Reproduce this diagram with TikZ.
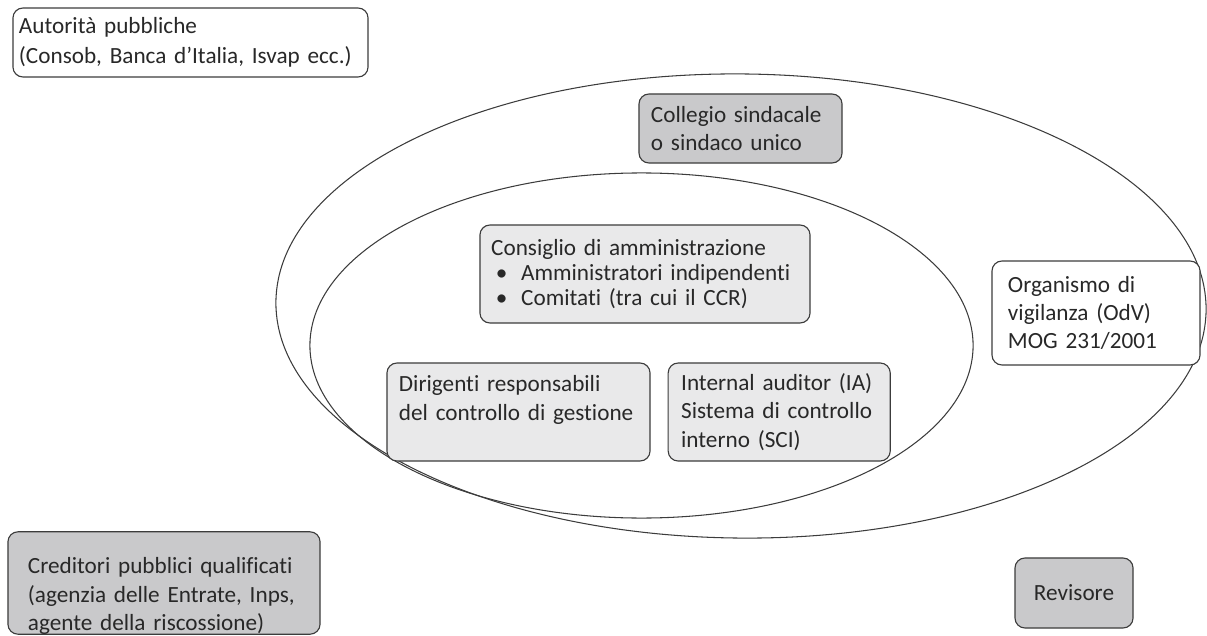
\documentclass[tikz,border=0pt]{standalone}
\usepackage{fontspec}
\setmainfont{Carlito}[Ligatures=NoCommon]
\usepackage{tikz}
\usetikzlibrary{positioning}

\definecolor{fillLight}{RGB}{233,233,234}
\definecolor{fillDark}{RGB}{201,201,203}
\definecolor{lineGray}{RGB}{60,60,60}
\definecolor{textGray}{RGB}{40,40,40}

\begin{document}
\begin{tikzpicture}[x=0.025cm, y=-0.025cm]
  \tikzstyle{box} = [draw=lineGray, line width=0.8pt, rounded corners=0.25cm, align=left, text=textGray, inner ysep=0pt, font={\fontsize{16.5}{20}\selectfont}]
  \tikzstyle{boxWhite} = [box, fill=white];
  \tikzstyle{boxLight} = [box, fill=fillLight];
  \tikzstyle{boxDark} = [box, fill=fillDark];
  \tikzstyle{ellipseLine} = [draw=lineGray, line width=0.75pt];

  \useasboundingbox (0,0) rectangle (1207,636);

  % the two rings
  \draw[ellipseLine, rotate around={-0.5:(741,306)}] (741,306) ellipse [x radius=11.625cm, y radius=5.8cm];
  \draw[ellipseLine] (641.5,345.5) ellipse [x radius=8.2875cm, y radius=4.3125cm];

	\node[boxWhite, minimum width=8.875cm, minimum height=1.725cm, text width=8.575cm, inner xsep=0.15cm, font={\fontsize{16.5}{21.5}\selectfont}](aut) at (190.5,42.5) {Autorità pubbliche\\(Consob, Banca d’Italia, Isvap ecc.)};
	\node[boxDark, minimum width=5.075cm, minimum height=1.725cm, text width=4.475cm, inner xsep=0.3cm](coll) at (740.5,128.5) {Collegio sindacale\\o sindaco unico};
	\node[boxLight, minimum width=8.25cm, minimum height=2.45cm, text width=7.69cm, inner xsep=0.28cm, font={\fontsize{16.5}{18}\selectfont}](cda) at (645,274) {Consiglio di amministrazione\\\hspace*{0.12cm}\makebox[0.63cm][l]{•}Amministratori indipendenti\\\hspace*{0.12cm}\makebox[0.63cm][l]{•}Comitati (tra cui il CCR)};
	\node[boxLight, minimum width=6.575cm, minimum height=2.45cm, text width=5.975cm, inner xsep=0.3cm](dir) at (518.5,412) {Dirigenti responsabili\\del controllo di gestione\\\mbox{}};
	\node[boxLight, minimum width=5.55cm, minimum height=2.45cm, text width=4.9cm, inner xsep=0.325cm](ia) [right=0.425cm of dir] {Internal auditor (IA)\\Sistema di controllo\\interno (SCI)};
	\node[boxWhite, minimum width=5.2cm, minimum height=2.6cm, text width=4.4cm, inner xsep=0.4cm](odv) at (1096,313) {Organismo di\\vigilanza (OdV)\\MOG 231/2001};
	\node[boxDark, minimum width=7.8cm, minimum height=2.55cm, text width=6.8cm, inner xsep=0.5cm](cred) at (164,583) {\rule{0pt}{30pt}Creditori pubblici qualificati\\(agenzia delle Entrate, Inps,\\agente della riscossione)};
	\node[boxDark, minimum width=2.95cm, minimum height=1.75cm](rev) at (1074,593) {Revisore};
\end{tikzpicture}
\end{document}
